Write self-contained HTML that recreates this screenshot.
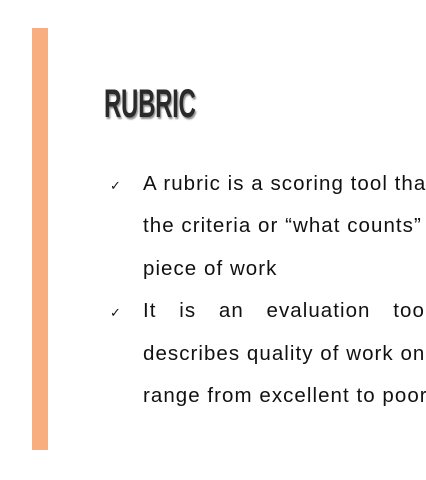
<!DOCTYPE html>
<html><head><meta charset="utf-8"><style>
body{margin:0;width:426px;height:480px;overflow:hidden;background:#fff;position:relative;font-family:"Liberation Sans",sans-serif;}
.clip{position:absolute;left:0;top:0;width:426px;height:480px;overflow:hidden;}
.bar{position:absolute;left:32px;top:28px;width:16px;height:422px;background:#F9AE80;}
.title{position:absolute;left:104px;top:82px;font-family:"Liberation Sans Narrow","Liberation Sans",sans-serif;font-weight:bold;font-size:40px;color:#2a2a2a;transform:scaleX(0.6);transform-origin:left top;text-shadow:2px 2px 2px rgba(0,0,0,0.45);letter-spacing:-0.5px;}
.line{position:absolute;left:143px;font-size:20.5px;color:#111;white-space:nowrap;letter-spacing:1.05px;}
.chk{position:absolute;left:110px;font-size:13px;color:#111;}
</style></head><body>
<div class="clip">
<div class="bar"></div>
<div class="title">RUBRIC</div>
<div class="chk" style="top:178px">✓</div>
<div class="line" style="top:172px">A rubric is a scoring tool that</div>
<div class="line" style="top:214px">the criteria or “what counts” for a</div>
<div class="line" style="top:257px">piece of work</div>
<div class="chk" style="top:305px">✓</div>
<div class="line" style="top:299px;word-spacing:16px">It is an evaluation tool that</div>
<div class="line" style="top:342px">describes quality of work on a</div>
<div class="line" style="top:384px">range from excellent to poor</div>
</div>
</body></html>
